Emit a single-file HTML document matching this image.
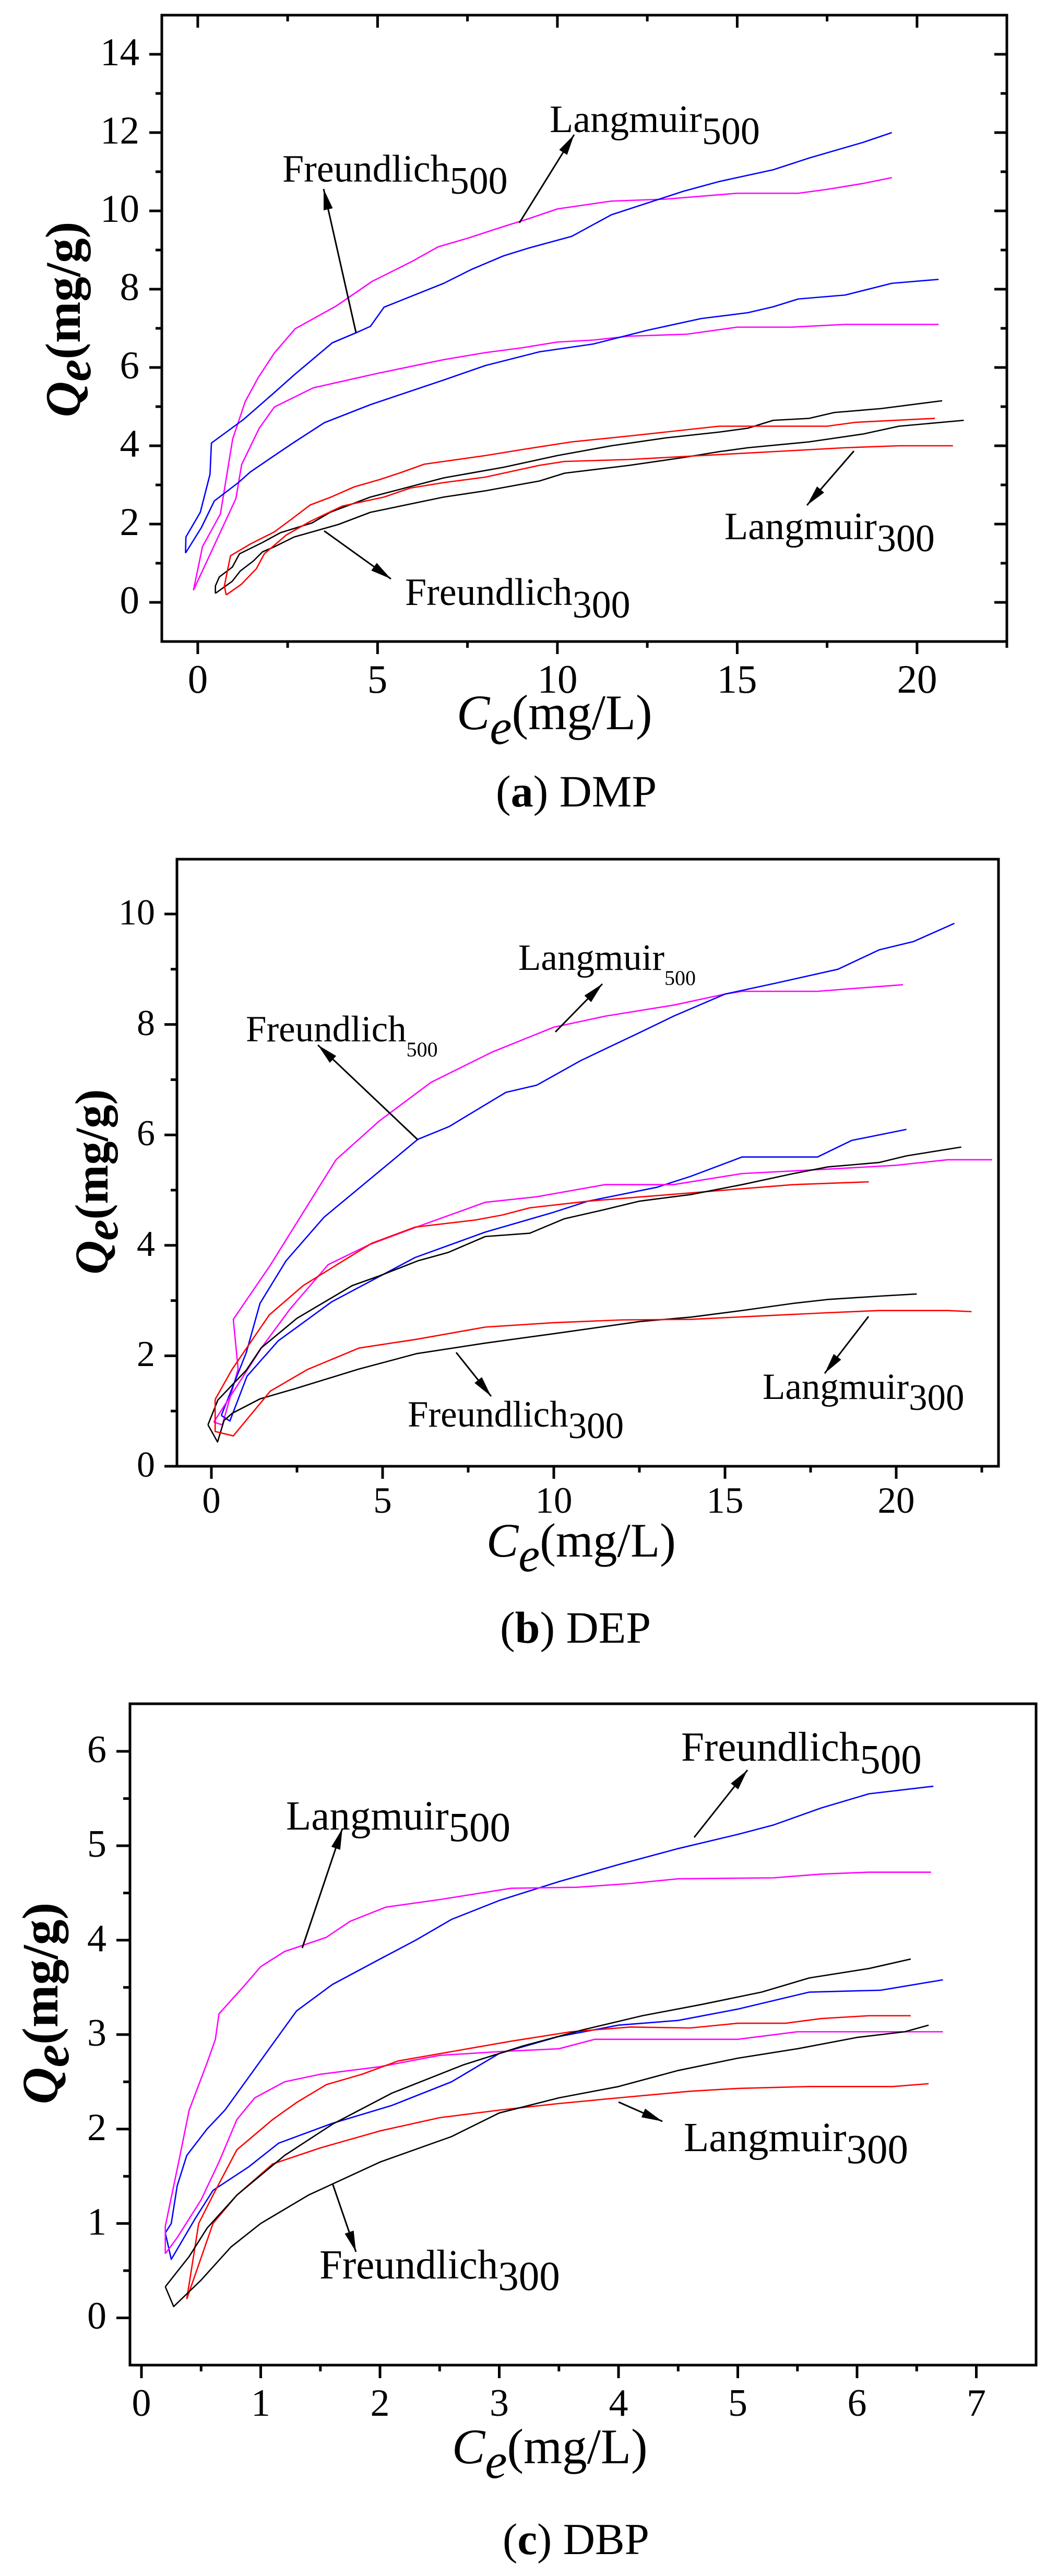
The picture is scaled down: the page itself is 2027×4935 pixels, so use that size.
<!DOCTYPE html>
<html>
<head>
<meta charset="utf-8">
<style>
html,body{margin:0;padding:0;background:#fff;}
svg{display:block;}
text{font-family:"Liberation Serif","Times New Roman",serif;fill:#000;}
.c{fill:none;stroke-width:2.6;stroke-linejoin:round;}
.ax{fill:none;stroke:#000;stroke-width:5;}
.tk{fill:none;stroke:#000;stroke-width:5;}
.ar{stroke:#000;stroke-width:3;fill:none;}
</style>
</head>
<body>
<svg width="2027" height="4935" viewBox="0 0 2027 4935" xmlns="http://www.w3.org/2000/svg" font-family="Liberation Serif, Times New Roman, serif">
<defs>
<marker id="ah" viewBox="0 0 40 20" refX="40" refY="10" markerWidth="40" markerHeight="20" markerUnits="userSpaceOnUse" orient="auto">
<path d="M0,1 L40,10 L0,19 z" fill="#000"/>
</marker>
</defs>
<rect width="2027" height="4935" fill="#fff"/>

<!-- ================= PANEL A ================= -->
<g transform="matrix(68.9,0,0,-75,378.9,1154)">
<polyline class="c" vector-effect="non-scaling-stroke" stroke="#ff00ff" points="-0.12,0.31 0.13,1.42 0.63,2.26 0.97,4.17 1.32,5.13 1.68,5.74 2.13,6.37 2.71,6.99 3.85,7.57 4.85,8.20 5.96,8.71 6.68,9.08 7.5,9.3 8.5,9.6 9.2,9.8 10,10.05 11.5,10.25 13,10.3 15,10.45 16.7,10.45 17.5,10.55 18.5,10.7 19.3,10.85"/>
<polyline class="c" vector-effect="non-scaling-stroke" stroke="#ff00ff" points="-0.12,0.31 1.06,2.65 1.22,3.52 1.71,4.45 2.13,4.99 3.21,5.48 5,5.85 6.84,6.2 8,6.38 9,6.5 10,6.65 11,6.7 12,6.8 13.6,6.85 15,7.03 16.5,7.03 18,7.1 20.6,7.1"/>
<polyline class="c" vector-effect="non-scaling-stroke" stroke="#0000ff" points="-0.34,1.26 -0.33,1.67 0.07,2.30 0.34,3.27 0.38,4.07 1.27,4.67 2.13,5.36 2.68,5.81 3.74,6.63 4.41,6.89 4.80,7.05 5.18,7.54 6.84,8.15 7.6,8.5 8.5,8.85 9.2,9.05 10.4,9.35 11.5,9.9 12.5,10.2 13.5,10.5 14.5,10.75 16,11.05 17,11.35 18.5,11.75 19.3,12.0"/>
<polyline class="c" vector-effect="non-scaling-stroke" stroke="#0000ff" points="-0.34,1.26 0.10,1.91 0.46,2.59 1.13,3.06 1.46,3.33 2.13,3.75 2.68,4.09 3.52,4.59 4.80,5.05 6.84,5.68 8,6.05 9.5,6.4 11,6.6 12.5,6.95 14,7.25 15.3,7.4 16,7.55 16.7,7.75 18,7.85 19.3,8.15 20.6,8.25"/>
<polyline class="c" vector-effect="non-scaling-stroke" stroke="#000" points="0.49,0.23 0.49,0.42 0.60,0.65 0.96,0.90 1.16,1.24 1.80,1.53 2.30,1.78 3.18,2.03 3.68,2.30 4.80,2.69 6.84,3.18 8.5,3.45 10,3.75 11.5,4.0 13,4.2 14.5,4.35 15.3,4.45 16,4.65 17,4.7 17.7,4.85 19,4.95 20.7,5.15"/>
<polyline class="c" vector-effect="non-scaling-stroke" stroke="#000" points="0.49,0.23 0.96,0.54 1.18,0.80 1.55,1.06 1.80,1.29 2.13,1.42 2.68,1.67 3.91,1.99 4.80,2.30 6.84,2.69 8,2.85 9.5,3.1 10.2,3.3 12,3.5 13.5,3.7 14.5,3.85 15.3,3.95 17,4.1 18.5,4.3 19.5,4.5 21.3,4.65"/>
<polyline class="c" vector-effect="non-scaling-stroke" stroke="#ff0000" points="0.79,0.19 0.74,0.42 0.91,1.19 1.46,1.49 2.13,1.80 2.57,2.10 3.13,2.49 3.68,2.68 4.35,2.95 5.07,3.14 5.63,3.31 6.30,3.53 6.84,3.60 8,3.75 9,3.9 10.4,4.1 12,4.25 14,4.45 14.5,4.5 16,4.5 17.5,4.5 18.3,4.6 20.5,4.7"/>
<polyline class="c" vector-effect="non-scaling-stroke" stroke="#ff0000" points="0.79,0.19 1.21,0.46 1.63,0.86 1.85,1.24 2.46,1.72 3.13,2.07 4.02,2.46 5.18,2.69 5.91,2.92 6.84,3.06 8,3.2 9.5,3.5 10.2,3.6 12,3.65 14,3.75 16,3.85 18,3.95 19.5,4.0 21,4.0"/>
</g>
<rect class="ax" x="310" y="29" width="1619" height="1200"/>
<path class="tk" d="M286 1154H310M286 1004H310M286 854H310M286 704H310M286 554H310M286 404H310M286 254H310M286 104H310
M298 1079H310M298 929H310M298 779H310M298 629H310M298 479H310M298 329H310M298 179H310
M1905 1154H1929M1905 1004H1929M1905 854H1929M1905 704H1929M1905 554H1929M1905 404H1929M1905 254H1929M1905 104H1929
M1917 1079H1929M1917 929H1929M1917 779H1929M1917 629H1929M1917 479H1929M1917 329H1929M1917 179H1929
M378.9 1229V1253M723.4 1229V1253M1067.9 1229V1253M1412.4 1229V1253M1756.9 1229V1253
M551.1 1229V1241M895.6 1229V1241M1240.1 1229V1241M1584.6 1229V1241M1929 1229V1241
M378.9 29V53M723.4 29V53M1067.9 29V53M1412.4 29V53M1756.9 29V53
M551.1 29V41M895.6 29V41M1240.1 29V41M1584.6 29V41"/>
<g font-size="75" text-anchor="end">
<text x="267" y="1175">0</text><text x="267" y="1025">2</text><text x="267" y="875">4</text><text x="267" y="725">6</text>
<text x="267" y="575">8</text><text x="267" y="425">10</text><text x="267" y="275">12</text><text x="267" y="125">14</text>
</g>
<g font-size="77" text-anchor="middle">
<text x="379" y="1327">0</text><text x="723" y="1327">5</text><text x="1068" y="1327">10</text><text x="1412" y="1327">15</text><text x="1757" y="1327">20</text>
</g>
<text x="875" y="1397" font-size="95"><tspan font-style="italic">C</tspan><tspan font-style="italic" dy="28">e</tspan><tspan dy="-28">(mg/L)</tspan></text>
<text transform="translate(153,612) rotate(-90)" text-anchor="middle" font-size="95" font-weight="bold"><tspan font-style="italic">Q</tspan><tspan font-style="italic" dy="20">e</tspan><tspan dy="-20">(mg/g)</tspan></text>
<text x="950" y="1545" font-size="86">(<tspan font-weight="bold">a</tspan>) DMP</text>
<g font-size="74">
<text x="1053" y="253">Langmuir<tspan dy="23">500</tspan></text>
<text x="541" y="348">Freundlich<tspan dy="23">500</tspan></text>
<text x="1388" y="1033">Langmuir<tspan dy="23">300</tspan></text>
<text x="776" y="1159">Freundlich<tspan dy="24">300</tspan></text>
</g>
<g class="ar" marker-end="url(#ah)">
<line x1="995" y1="427" x2="1100" y2="258"/>
<line x1="682" y1="637" x2="620" y2="362"/>
<line x1="1636" y1="864" x2="1546" y2="968"/>
<line x1="621" y1="1017" x2="749" y2="1109"/>
</g>

<!-- ================= PANEL B ================= -->
<g transform="matrix(65.6,0,0,-105.8,405,2809)">
<polyline class="c" vector-effect="non-scaling-stroke" stroke="#ff00ff" points="0.07,0.80 0.32,0.75 0.78,1.76 0.64,2.66 1.72,3.64 3.64,5.55 4.9,6.25 6.41,6.95 8.2,7.5 10,7.95 11.5,8.15 13.5,8.35 15,8.55 15.5,8.6 17.7,8.6 20.2,8.72"/>
<polyline class="c" vector-effect="non-scaling-stroke" stroke="#0000ff" points="0.29,0.92 1.02,2.06 1.42,2.95 2.18,3.72 3.29,4.51 4.40,5.08 6.03,5.92 6.94,6.15 8.6,6.77 9.5,6.9 10.8,7.35 12.5,7.85 13.5,8.15 15,8.55 16.5,8.75 18.3,9.0 19.5,9.35 20.5,9.5 21.7,9.83"/>
<polyline class="c" vector-effect="non-scaling-stroke" stroke="#0000ff" points="0.29,0.92 0.54,0.82 1.04,1.63 1.95,2.27 3.52,2.98 5.95,3.78 8.0,4.24 10,4.6 11,4.8 13,5.05 14,5.25 15.5,5.6 16.5,5.6 17.7,5.6 18.7,5.9 20.3,6.1"/>
<polyline class="c" vector-effect="non-scaling-stroke" stroke="#ff00ff" points="0.07,0.80 1.48,2.16 2.30,2.85 3.41,3.65 4.60,4.01 5.94,4.32 8.0,4.78 9.5,4.88 11.5,5.1 13.5,5.1 15.5,5.3 18,5.38 20,5.45 21.5,5.55 22.8,5.55"/>
<polyline class="c" vector-effect="non-scaling-stroke" stroke="#ff0000" points="0.11,1.21 0.61,1.76 1.69,2.74 2.68,3.27 3.64,3.64 4.69,4.04 5.95,4.33 7.72,4.46 8.5,4.55 9.3,4.68 11,4.8 13,4.9 15,5.0 17,5.1 19.2,5.15"/>
<polyline class="c" vector-effect="non-scaling-stroke" stroke="#000" points="-0.1,0.75 0.19,1.20 1.02,1.74 1.45,2.14 2.50,2.68 4.11,3.27 4.92,3.45 6.03,3.72 6.91,3.87 8.0,4.16 9.3,4.22 10.3,4.48 11.5,4.65 12.5,4.8 14,4.92 15.5,5.1 17,5.3 18,5.42 19.5,5.5 20.3,5.62 21.9,5.78"/>
<polyline class="c" vector-effect="non-scaling-stroke" stroke="#000" points="-0.1,0.75 0.18,0.44 0.37,0.83 0.61,0.96 1.42,1.22 2.47,1.41 4.31,1.76 6.0,2.04 8.0,2.23 10,2.4 12.5,2.62 14,2.7 15.5,2.82 17,2.95 18,3.02 19.5,3.08 20.6,3.12"/>
<polyline class="c" vector-effect="non-scaling-stroke" stroke="#ff0000" points="0.11,1.21 0.11,0.63 0.64,0.55 1.72,1.36 2.80,1.75 4.31,2.14 6,2.3 8,2.52 10,2.6 12,2.65 14,2.66 16,2.72 18,2.78 19.5,2.82 21.5,2.82 22.2,2.8"/>
</g>
<rect class="ax" x="339" y="1646" width="1574" height="1163"/>
<path class="tk" d="M315 2809H339M315 2597.4H339M315 2385.8H339M315 2174.2H339M315 1962.6H339M315 1751H339
M327 2703.2H339M327 2491.6H339M327 2280H339M327 2068.4H339M327 1856.8H339
M405 2809V2833M733 2809V2833M1061 2809V2833M1389 2809V2833M1717 2809V2833
M569 2809V2821M897 2809V2821M1225 2809V2821M1553 2809V2821M1881 2809V2821"/>
<g font-size="70" text-anchor="end">
<text x="297" y="2829">0</text><text x="297" y="2617">2</text><text x="297" y="2406">4</text>
<text x="297" y="2194">6</text><text x="297" y="1983">8</text><text x="297" y="1771">10</text>
</g>
<g font-size="71" text-anchor="middle">
<text x="405" y="2898">0</text><text x="733" y="2898">5</text><text x="1061" y="2898">10</text><text x="1389" y="2898">15</text><text x="1717" y="2898">20</text>
</g>
<text x="932" y="2982" font-size="92"><tspan font-style="italic">C</tspan><tspan font-style="italic" dy="28">e</tspan><tspan dy="-28">(mg/L)</tspan></text>
<text transform="translate(206,2264) rotate(-90)" text-anchor="middle" font-size="90" font-weight="bold"><tspan font-style="italic">Q</tspan><tspan font-style="italic" dy="19">e</tspan><tspan dy="-19">(mg/g)</tspan></text>
<text x="958" y="3147" font-size="86">(<tspan font-weight="bold">b</tspan>) DEP</text>
<g font-size="71">
<text x="993" y="1858">Langmuir<tspan font-size="40" dy="29">500</tspan></text>
<text x="471" y="1995">Freundlich<tspan font-size="40" dy="29">500</tspan></text>
<text x="1461" y="2680">Langmuir<tspan dy="21">300</tspan></text>
<text x="781" y="2733">Freundlich<tspan dy="22">300</tspan></text>
</g>
<g class="ar" marker-end="url(#ah)">
<line x1="1064" y1="1977" x2="1154" y2="1885"/>
<line x1="801" y1="2184" x2="609" y2="2002"/>
<line x1="1664" y1="2522" x2="1580" y2="2631"/>
<line x1="874" y1="2591" x2="941" y2="2675"/>
</g>

<!-- ================= PANEL C ================= -->
<g transform="matrix(228.5,0,0,-180.9,271,4440.5)">
<polyline class="c" vector-effect="non-scaling-stroke" stroke="#0000ff" points="0.2,0.9 0.25,1.0 0.3,1.4 0.38,1.72 0.55,2.0 0.7,2.2 0.9,2.55 1.1,2.9 1.3,3.25 1.6,3.53 2.0,3.8 2.3,4.0 2.6,4.22 3.0,4.42 3.5,4.62 4.0,4.8 4.5,4.97 5.0,5.12 5.3,5.22 5.7,5.4 6.1,5.55 6.64,5.63"/>
<polyline class="c" vector-effect="non-scaling-stroke" stroke="#0000ff" points="0.2,0.9 0.25,0.62 0.45,1.05 0.6,1.35 0.9,1.6 1.15,1.85 1.6,2.06 2.1,2.25 2.6,2.5 3.0,2.8 3.5,2.98 4.0,3.1 4.5,3.15 5.0,3.27 5.6,3.45 6.2,3.47 6.72,3.58"/>
<polyline class="c" vector-effect="non-scaling-stroke" stroke="#ff00ff" points="0.2,0.68 0.2,0.97 0.32,1.7 0.4,2.2 0.55,2.7 0.62,2.95 0.65,3.22 0.85,3.5 1.0,3.72 1.2,3.88 1.55,4.03 1.75,4.2 2.05,4.35 2.5,4.43 3.1,4.55 3.65,4.56 4.1,4.6 4.5,4.65 5.3,4.66 5.7,4.7 6.1,4.72 6.62,4.72"/>
<polyline class="c" vector-effect="non-scaling-stroke" stroke="#ff00ff" points="0.2,0.68 0.3,0.85 0.5,1.25 0.65,1.65 0.8,2.1 0.95,2.33 1.2,2.5 1.5,2.58 2.0,2.66 2.5,2.78 3.0,2.82 3.5,2.85 3.8,2.95 4.5,2.95 5.0,2.95 5.5,3.03 6.2,3.03 6.72,3.03"/>
<polyline class="c" vector-effect="non-scaling-stroke" stroke="#ff0000" points="0.38,0.2 0.48,1.0 0.6,1.3 0.8,1.78 1.1,2.1 1.3,2.28 1.55,2.47 1.85,2.58 2.15,2.72 2.6,2.82 3.1,2.93 3.6,3.03 4.1,3.08 4.6,3.07 5.0,3.12 5.4,3.12 5.7,3.17 6.1,3.2 6.45,3.2"/>
<polyline class="c" vector-effect="non-scaling-stroke" stroke="#ff0000" points="0.38,0.2 0.6,1.0 0.8,1.3 1.1,1.63 1.5,1.8 2.0,1.98 2.5,2.12 3.0,2.2 3.5,2.27 4.0,2.33 4.6,2.4 5.0,2.43 5.6,2.45 6.3,2.45 6.6,2.48"/>
<polyline class="c" vector-effect="non-scaling-stroke" stroke="#000" points="0.2,0.33 0.4,0.65 0.55,0.95 0.8,1.3 1.2,1.72 1.6,2.05 2.1,2.38 2.7,2.68 3.2,2.88 3.7,3.05 4.2,3.2 4.7,3.32 5.2,3.45 5.6,3.6 6.1,3.7 6.45,3.8"/>
<polyline class="c" vector-effect="non-scaling-stroke" stroke="#000" points="0.2,0.33 0.27,0.12 0.5,0.4 0.75,0.75 1.0,1.0 1.4,1.3 2.0,1.65 2.6,1.92 3.0,2.17 3.5,2.33 4.0,2.45 4.5,2.62 5.0,2.75 5.5,2.85 6.0,2.97 6.4,3.03 6.6,3.1"/>
</g>
<rect class="ax" x="249" y="3264" width="1736" height="1267"/>
<path class="tk" d="M223 4440.5H249M223 4259.6H249M223 4078.7H249M223 3897.8H249M223 3716.9H249M223 3536H249M223 3355.1H249
M236 4350H249M236 4169.2H249M236 3988.3H249M236 3807.4H249M236 3626.5H249M236 3445.6H249
M271 4531V4556M499.5 4531V4556M728 4531V4556M956.5 4531V4556M1185 4531V4556M1413.5 4531V4556M1642 4531V4556M1870.5 4531V4556
M385.3 4531V4543M613.8 4531V4543M842.3 4531V4543M1070.8 4531V4543M1299.3 4531V4543M1527.8 4531V4543M1756.3 4531V4543"/>
<g font-size="74" text-anchor="end">
<text x="204" y="4461">0</text><text x="204" y="4281">1</text><text x="204" y="4100">2</text><text x="204" y="3919">3</text>
<text x="204" y="3738">4</text><text x="204" y="3557">5</text><text x="204" y="3376">6</text>
</g>
<g font-size="74" text-anchor="middle">
<text x="271" y="4628">0</text><text x="499.5" y="4628">1</text><text x="728" y="4628">2</text><text x="956.5" y="4628">3</text>
<text x="1185" y="4628">4</text><text x="1413.5" y="4628">5</text><text x="1642" y="4628">6</text><text x="1870.5" y="4628">7</text>
</g>
<text x="866" y="4719" font-size="95"><tspan font-style="italic">C</tspan><tspan font-style="italic" dy="28">e</tspan><tspan dy="-28">(mg/L)</tspan></text>
<text transform="translate(110,3838) rotate(-90)" text-anchor="middle" font-size="98" font-weight="bold"><tspan font-style="italic">Q</tspan><tspan font-style="italic" dy="21">e</tspan><tspan dy="-21">(mg/g)</tspan></text>
<text x="963" y="4893" font-size="85">(<tspan font-weight="bold">c</tspan>) DBP</text>
<g font-size="79">
<text x="1305" y="3373">Freundlich<tspan dy="24">500</tspan></text>
<text x="548" y="3505">Langmuir<tspan dy="22">500</tspan></text>
<text x="1310" y="4121">Langmuir<tspan dy="23">300</tspan></text>
<text x="612" y="4365">Freundlich<tspan dy="22">300</tspan></text>
</g>
<g class="ar" marker-end="url(#ah)">
<line x1="1330" y1="3520" x2="1432" y2="3391"/>
<line x1="579" y1="3732" x2="656" y2="3503"/>
<line x1="1185" y1="4027" x2="1269" y2="4064"/>
<line x1="637" y1="4183" x2="682" y2="4314"/>
</g>
</svg>
</body>
</html>
